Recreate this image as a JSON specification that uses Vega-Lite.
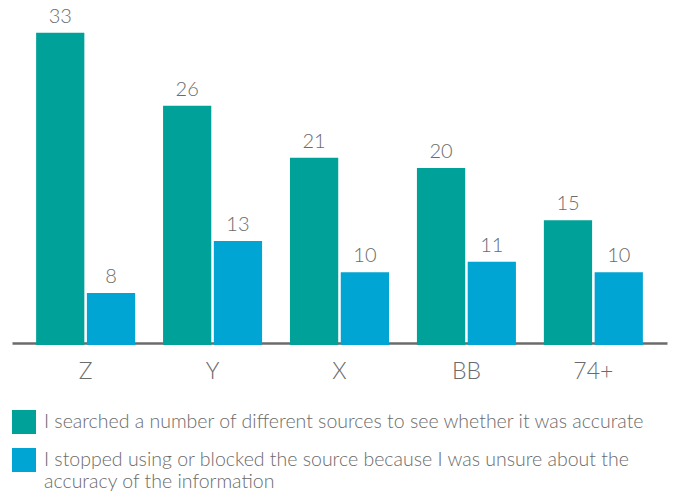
{
  "$schema": "https://vega.github.io/schema/vega-lite/v6.json",
  "autosize": {"type": "none"},
  "width": 655,
  "height": 333,
  "padding": {"left": 12, "top": 12, "right": 8, "bottom": 147},
  "background": "white",
  "config": {
    "view": {"stroke": null},
    "font": "Lato",
    "text": {"font": "Lato"}
  },
  "data": {
    "values": [
      {"group": "Z", "series": "I searched a number of different sources to see whether it was accurate", "value": 33},
      {"group": "Z", "series": "I stopped using or blocked the source because I was unsure about the accuracy of the information", "value": 8},
      {"group": "Y", "series": "I searched a number of different sources to see whether it was accurate", "value": 26},
      {"group": "Y", "series": "I stopped using or blocked the source because I was unsure about the accuracy of the information", "value": 13},
      {"group": "X", "series": "I searched a number of different sources to see whether it was accurate", "value": 21},
      {"group": "X", "series": "I stopped using or blocked the source because I was unsure about the accuracy of the information", "value": 10},
      {"group": "BB", "series": "I searched a number of different sources to see whether it was accurate", "value": 20},
      {"group": "BB", "series": "I stopped using or blocked the source because I was unsure about the accuracy of the information", "value": 11},
      {"group": "74+", "series": "I searched a number of different sources to see whether it was accurate", "value": 15},
      {"group": "74+", "series": "I stopped using or blocked the source because I was unsure about the accuracy of the information", "value": 10}
    ]
  },
  "encoding": {
    "x": {
      "field": "group",
      "type": "nominal",
      "sort": ["Z", "Y", "X", "BB", "74+"],
      "scale": {"paddingInner": 0.22, "paddingOuter": 0.19},
      "axis": {
        "title": null,
        "labelAngle": 0,
        "labelFont": "Lato",
        "labelFontWeight": 300,
        "labelFontSize": 23,
        "labelColor": "#6b6b6b",
        "labelPadding": 17,
        "ticks": false,
        "domainColor": "#6b6b6b",
        "domainWidth": 2.5,
        "offset": -2
      }
    },
    "xOffset": {
      "field": "series",
      "type": "nominal",
      "scale": {"paddingInner": 0.05}
    },
    "y": {
      "field": "value",
      "type": "quantitative",
      "scale": {"domain": [3, 35], "zero": false, "nice": false},
      "axis": null
    }
  },
  "layer": [
    {
      "mark": {"type": "bar", "clip": true},
      "encoding": {
        "color": {
          "field": "series",
          "type": "nominal",
          "scale": {"range": ["#00a198", "#00a5d3"]},
          "legend": {
            "title": null,
            "orient": "none",
            "legendX": 0,
            "legendY": 398,
            "direction": "vertical",
            "symbolType": "square",
            "symbolSize": 576,
            "symbolStrokeWidth": 0,
            "symbolOpacity": 1,
            "labelFont": "Lato",
            "labelFontWeight": 300,
            "labelFontSize": 19.5,
            "labelColor": "#6b6b6b",
            "labelLimit": 0,
            "labelOffset": 8,
            "rowPadding": 14,
            "padding": 0,
            "labelExpr": "test(/stopped/, datum.label) ? ['I stopped using or blocked the source because I was unsure about the', 'accuracy of the information'] : datum.label"
          }
        }
      }
    },
    {
      "mark": {"type": "text", "baseline": "bottom", "dy": -6, "fontSize": 20, "fontWeight": 300, "color": "#6b6b6b", "font": "Lato"},
      "encoding": {
        "text": {"field": "value", "type": "quantitative"}
      }
    }
  ]
}
